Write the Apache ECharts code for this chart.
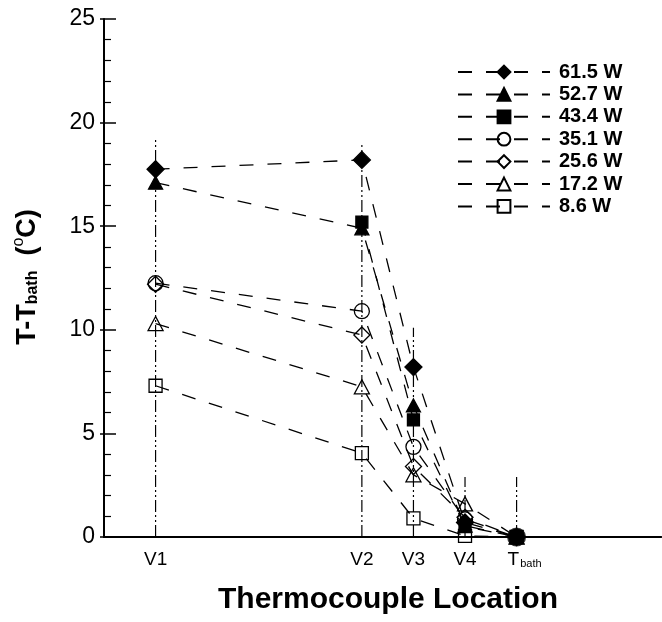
<!DOCTYPE html>
<html><head><meta charset="utf-8">
<script src="https://cdn.jsdelivr.net/npm/echarts@6/dist/echarts.min.js"></script>
<style>html,body{margin:0;padding:0;background:#fff}#c{width:662px;height:622px}</style>
</head><body><div id="c"></div>
<script>
// ---- data ----
const locNames = ['V1', 'V2', 'V3', 'V4', 'Tbath'];
const locX = [1, 5, 6, 7, 8];
const locTop = [19.2, 19.0, 10.1, 2.9, 2.9];
const seriesNames = ['61.5 W', '52.7 W', '43.4 W', '35.1 W', '25.6 W', '17.2 W', '8.6 W'];
const s615 = [17.75, 18.2, 8.2, 0.7, 0];
const s527 = [17.1, 14.9, 6.35, 0.55, 0];
const s434 = [null, 15.2, 5.65, 0.5, 0];
const s351 = [12.25, 10.9, 4.35, 0.85, 0];
const s256 = [12.2, 9.75, 3.4, 0.95, 0];
const s172 = [10.3, 7.25, 3.0, 1.6, 0];
const s86 = [7.3, 4.05, 0.9, 0.05, 0];
const bathPoint = [8, 0];
const yMin = 0, yMax = 25, yStep = 5;
const xMin = 0, xMax = 10.8;

const seriesValues = [s615, s527, s434, s351, s256, s172, s86];
const styles = [
  {symbol: 'diamond', size: 17, fill: true},
  {symbol: 'triangle', size: [14, 13], fill: true},
  {symbol: 'rect', size: 12, fill: true},
  {symbol: 'circle', size: 15, fill: false},
  {symbol: 'diamond', size: 16, fill: false},
  {symbol: 'triangle', size: [15, 14], fill: false},
  {symbol: 'rect', size: 13, fill: false}
];
const FONT = 'Liberation Sans, Arial, sans-serif';

const series = [];
locX.forEach((x, i) => {
  series.push({
    type: 'line', silent: true, symbol: 'none', z: 1,
    data: [[x, 0], [x, locTop[i]]],
    lineStyle: {color: '#000', width: 1.2, type: [12, 3, 2, 3, 2, 3]}
  });
});
seriesValues.forEach((vals, k) => {
  const st = styles[k];
  series.push({
    name: seriesNames[k], type: 'line', z: 3,
    data: vals.map((v, i) => [locX[i], v]),
    connectNulls: false,
    symbol: st.symbol, symbolSize: st.size,
    lineStyle: {color: '#000', width: 1.3, type: [14, 14]},
    itemStyle: {color: st.fill ? '#000' : 'rgba(255,255,255,0)', borderColor: '#000', borderWidth: 1.3}
  });
});
series.push({
  type: 'scatter', silent: true, z: 5, data: [bathPoint],
  symbol: 'circle', symbolSize: 19, itemStyle: {color: '#000'}
});

const chart = echarts.init(document.getElementById('c'), null, {renderer: 'canvas'});
chart.setOption({
  animation: false,
  backgroundColor: '#fff',
  grid: {left: 104, top: 19, width: 557, height: 518, show: false},
  xAxis: [{
    type: 'value', min: xMin, max: xMax, interval: 1, position: 'bottom',
    axisLine: {show: true, lineStyle: {color: '#000', width: 2}},
    axisTick: {show: false}, splitLine: {show: false},
    axisLabel: {
      customValues: locX, margin: 10, color: '#000', fontFamily: FONT, fontSize: 19,
      formatter: function (v) {
        const i = locX.indexOf(v);
        if (i < 0) return '';
        const n = locNames[i];
        if (n === 'Tbath') return '{t|T}{s|bath}';
        return '{n|' + n + '}';
      },
      rich: {
        n: {fontSize: 19, fontFamily: FONT, color: '#000', lineHeight: 22, verticalAlign: 'bottom'},
        t: {fontSize: 19, fontFamily: FONT, color: '#000', lineHeight: 22, verticalAlign: 'bottom', padding: [0, 0, 0, 16]},
        s: {fontSize: 11, fontFamily: FONT, color: '#000', lineHeight: 4, verticalAlign: 'bottom', padding: [0, 0, 0, 1]}
      }
    }
  }, {
    type: 'value', min: xMin, max: xMax, interval: 1, position: 'top',
    axisLine: {show: true, lineStyle: {color: '#000', width: 2}},
    axisTick: {show: false}, splitLine: {show: false}, axisLabel: {show: false}
  }],
  yAxis: [{
    type: 'value', min: yMin, max: yMax, interval: yStep, position: 'left',
    axisLine: {show: true, lineStyle: {color: '#000', width: 2}},
    axisTick: {show: true, inside: true, length: 12, lineStyle: {color: '#000', width: 1.5}},
    minorTick: {show: true, splitNumber: 5, length: 7, lineStyle: {color: '#000', width: 1.2}},
    splitLine: {show: false}, minorSplitLine: {show: false},
    axisLabel: {color: '#000', fontFamily: FONT, fontSize: 23, margin: 9}
  }, {
    type: 'value', min: yMin, max: yMax, interval: yStep, position: 'right',
    axisLine: {show: false},
    axisTick: {show: true, inside: true, length: 4, lineStyle: {color: '#000', width: 1.5}},
    splitLine: {show: false}, axisLabel: {show: false}
  }],
  legend: {
    orient: 'vertical', left: 452, top: 57,
    itemWidth: 92, itemHeight: 16, itemGap: 2.4,
    data: seriesNames,
    textStyle: {color: '#000', fontFamily: FONT, fontSize: 20, fontWeight: 'bold', lineHeight: 16, padding: [0, 0, 0, 4]}
  },
  graphic: [{
    type: 'text', x: 388, y: 600,
    style: {text: 'Thermocouple Location', fill: '#000', font: 'bold 30px ' + FONT, align: 'center', verticalAlign: 'middle'}
  }, {
    type: 'text', x: 26, y: 277, rotation: Math.PI / 2,
    style: {
      text: '{a|T-T}{b|bath}{a|  (}{c|o}{a|C)}', fill: '#000', align: 'center', verticalAlign: 'middle',
      rich: {
        a: {fontSize: 27, fontWeight: 'bold', fontFamily: FONT, fill: '#000', lineHeight: 30, verticalAlign: 'bottom'},
        b: {fontSize: 16, fontWeight: 'bold', fontFamily: FONT, fill: '#000', lineHeight: 4, verticalAlign: 'bottom'},
        c: {fontSize: 16, fontWeight: 'normal', fontFamily: FONT, fill: '#000', lineHeight: 4, verticalAlign: 'top'}
      }
    }
  }],
  series: series
});
</script>
</body></html>
